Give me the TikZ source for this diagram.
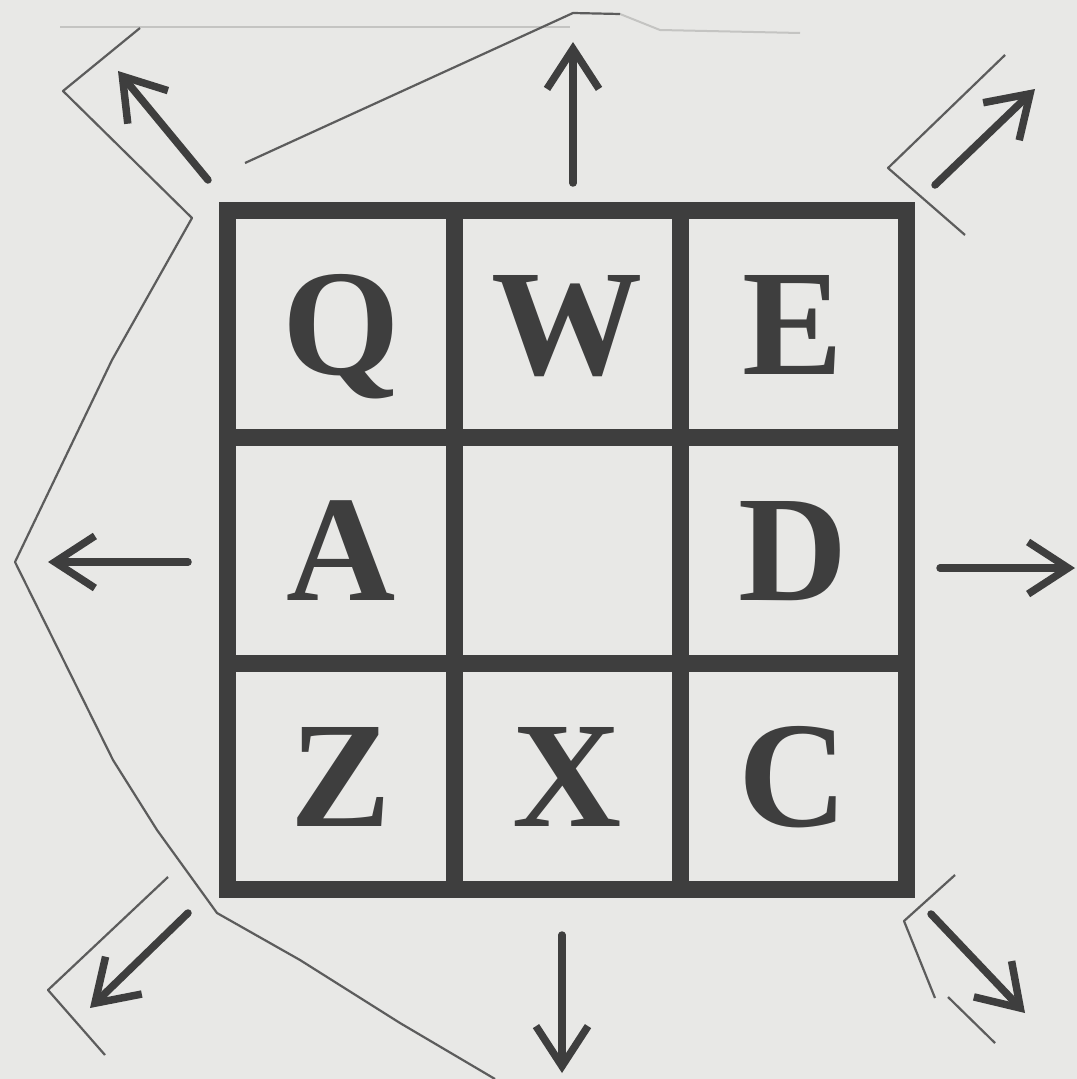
\documentclass[tikz,border=0pt]{standalone}
\usepackage{fontspec}
\setmainfont{Liberation Serif}
\usepackage{xcolor}
\usepackage{tikz}
\usetikzlibrary{arrows.meta,positioning}

\definecolor{paper}{HTML}{E8E8E6}
\definecolor{ink}{HTML}{3E3E3E}
\definecolor{cutgray}{HTML}{5C5C5C}
\definecolor{faintgray}{HTML}{C4C4C2}

\begin{document}
\begin{tikzpicture}[
  x=0.01cm, y=-0.01cm,
  node distance=0pt,
  keycell/.style={rectangle, draw=ink, line width=0.17cm, minimum size=2.26cm, inner sep=0pt, outer sep=0pt,
    text=ink, font=\bfseries\fontsize{43}{43}\selectfont, text height=1.0cm, text depth=0pt},
  arrow/.style={draw=ink, line width=0.075cm, line cap=round, -{Straight Barb[length=0.4cm, width=0.52cm]}},
  cut/.style={draw=cutgray, line width=0.022cm, line join=round},
  faint/.style={draw=faintgray, line width=0.02cm}
]

\fill[paper] (0,0) rectangle (1077,1079);
\useasboundingbox (0,0) rectangle (1077,1079);

% paper edges
\draw[faint] (60,27) -- (570,27);
\draw[faint] (620,14) -- (660,30) -- (800,33);
\draw[cut] (140,28) -- (63,91) -- (192,218) -- (112,360) -- (15,562) -- (113,760) -- (157,830)
  -- (217,913) -- (300,960) -- (400,1023) -- (495,1079);
\draw[cut] (245,163) -- (573,13) -- (620,14);
\draw[cut] (1005,55) -- (888,168) -- (965,235);
\draw[cut] (168,877) -- (48,990) -- (105,1055);
\draw[cut] (955,875) -- (904,921) -- (935,998);
\draw[cut] (948,997) -- (995,1043);

% keys
\node[keycell] (q) at (341,324) {Q};
\node[keycell, right=of q] (w) {W};
\node[keycell, right=of w] (e) {E};
\node[keycell, below=of q] (a) {A};
\node[keycell, right=of a] (mid) {};
\node[keycell, right=of mid] (d) {D};
\node[keycell, below=of a] (z) {Z};
\node[keycell, right=of z] (x) {X};
\node[keycell, right=of x] (c) {C};

% directions
\coordinate (upS) at (573,183);   \coordinate (upT) at (573,42);
\coordinate (dnS) at (562,935);   \coordinate (dnT) at (562,1073);
\coordinate (ltS) at (188,562);   \coordinate (ltT) at (48,562);
\coordinate (rtS) at (940,568);   \coordinate (rtT) at (1075,568);
\coordinate (neS) at (935,185);   \coordinate (neT) at (1035,89);
\coordinate (nwS) at (208,180);   \coordinate (nwT) at (118,71);
\coordinate (swS) at (188,913);   \coordinate (swT) at (90,1008);
\coordinate (seS) at (931,914);   \coordinate (seT) at (1025,1013);

\draw[arrow] (upS) -- (upT);
\draw[arrow] (dnS) -- (dnT);
\draw[arrow] (ltS) -- (ltT);
\draw[arrow] (rtS) -- (rtT);
\draw[arrow] (neS) -- (neT);
\draw[arrow] (nwS) -- (nwT);
\draw[arrow] (swS) -- (swT);
\draw[arrow] (seS) -- (seT);

\end{tikzpicture}
\end{document}
